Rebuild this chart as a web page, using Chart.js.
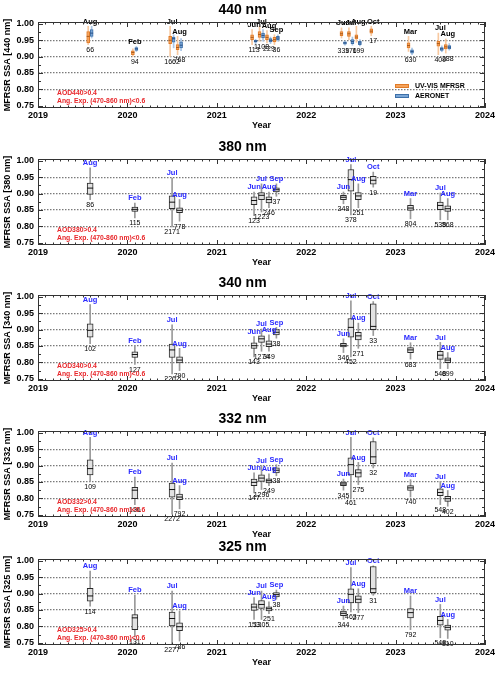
<!DOCTYPE html>
<html>
<head>
<meta charset="utf-8">
<script src="https://cdn.jsdelivr.net/npm/chart.js@4.4.1/dist/chart.umd.min.js"></script>
<style>
  body { margin: 0; background: #fff; }
  #wrap { position: relative; width: 500px; height: 673px; overflow: hidden; }
  #wrap canvas { position: absolute; left: 0; }
</style>
</head>
<body>
<div id="wrap">
  <canvas id="c440" width="500" height="135" style="top:-1px"></canvas>
  <canvas id="c380" width="500" height="135" style="top:136px"></canvas>
  <canvas id="c340" width="500" height="135" style="top:272px"></canvas>
  <canvas id="c332" width="500" height="135" style="top:408px"></canvas>
  <canvas id="c325" width="500" height="135" style="top:536px"></canvas>
</div>
<script>
// Observation months (same for every panel)
const months = ['2019-08', '2020-02', '2020-07', '2020-08', '2021-06', '2021-07', '2021-08', '2021-09',
                '2022-06', '2022-07', '2022-08', '2022-10', '2023-03', '2023-07', '2023-08'];
const monthLabels = ['Aug', 'Feb', 'Jul', 'Aug', 'Jun', 'Jul', 'Aug', 'Sep', 'Jun', 'Jul', 'Aug', 'Oct', 'Mar', 'Jul', 'Aug'];
const yearTicks = [2019, 2020, 2021, 2022, 2023, 2024];
const ssaTicks = [0.75, 0.80, 0.85, 0.90, 0.95, 1.00];
const gridLevels = [0.80, 0.85, 0.90, 0.95];

// Box stats per month: [whisker low, q1, median, q3, whisker high]
const ssa440Mfrsr = [
  [0.937, 0.942, 0.962, 0.977, 0.993], [0.901, 0.906, 0.913, 0.918, 0.924], [0.901, 0.940, 0.950, 0.962, 0.993],
  [0.906, 0.921, 0.928, 0.937, 0.962], [0.937, 0.952, 0.959, 0.967, 0.983], [0.947, 0.959, 0.968, 0.977, 0.993],
  [0.942, 0.952, 0.959, 0.967, 0.980], [0.937, 0.945, 0.952, 0.959, 0.967], [0.957, 0.964, 0.970, 0.977, 0.988],
  [0.952, 0.962, 0.970, 0.977, 0.988], [0.944, 0.954, 0.960, 0.967, 0.993], [0.964, 0.972, 0.978, 0.985, 0.993],
  [0.916, 0.927, 0.934, 0.942, 0.962], [0.906, 0.932, 0.940, 0.947, 0.972], [0.911, 0.924, 0.930, 0.937, 0.954]
];
const ssa440Aeronet = [
  [0.957, 0.962, 0.972, 0.983, 0.993], [0.916, 0.919, 0.924, 0.928, 0.931], [0.927, 0.944, 0.955, 0.960, 0.967],
  [0.918, 0.927, 0.935, 0.945, 0.955], [0.940, 0.944, 0.947, 0.950, 0.953], [0.947, 0.957, 0.965, 0.972, 0.983],
  [0.940, 0.945, 0.950, 0.955, 0.960], [0.947, 0.952, 0.957, 0.962, 0.967], [0.935, 0.938, 0.942, 0.945, 0.948],
  [0.935, 0.940, 0.946, 0.952, 0.960], [0.933, 0.937, 0.942, 0.947, 0.952], null,
  [0.906, 0.911, 0.916, 0.921, 0.926], [0.915, 0.919, 0.924, 0.928, 0.933], [0.920, 0.924, 0.929, 0.934, 0.940]
];
const ssa380 = [
  [0.882, 0.898, 0.917, 0.932, 0.979], [0.826, 0.846, 0.852, 0.859, 0.871], [0.798, 0.854, 0.874, 0.893, 0.948],
  [0.816, 0.842, 0.849, 0.857, 0.882], [0.833, 0.866, 0.879, 0.890, 0.905], [0.844, 0.882, 0.895, 0.903, 0.930],
  [0.857, 0.872, 0.882, 0.890, 0.905], [0.892, 0.905, 0.912, 0.918, 0.930], [0.869, 0.882, 0.889, 0.895, 0.905],
  [0.835, 0.908, 0.943, 0.974, 0.989], [0.857, 0.882, 0.893, 0.903, 0.930], [0.920, 0.929, 0.941, 0.953, 0.966],
  [0.823, 0.849, 0.856, 0.864, 0.885], [0.820, 0.851, 0.864, 0.874, 0.902], [0.820, 0.846, 0.854, 0.863, 0.885]
];
const ssa340 = [
  [0.857, 0.877, 0.898, 0.918, 0.977], [0.794, 0.815, 0.824, 0.832, 0.851], [0.765, 0.815, 0.838, 0.856, 0.915],
  [0.775, 0.798, 0.807, 0.817, 0.843], [0.817, 0.843, 0.851, 0.860, 0.879], [0.834, 0.861, 0.872, 0.881, 0.902],
  [0.834, 0.848, 0.856, 0.866, 0.884], [0.874, 0.884, 0.892, 0.900, 0.907], [0.830, 0.847, 0.852, 0.858, 0.872],
  [0.817, 0.877, 0.907, 0.934, 0.988], [0.843, 0.869, 0.881, 0.892, 0.920], [0.882, 0.900, 0.910, 0.979, 0.986],
  [0.810, 0.830, 0.838, 0.845, 0.860], [0.781, 0.809, 0.822, 0.834, 0.861], [0.781, 0.799, 0.807, 0.814, 0.830]
];
const ssa332 = [
  [0.852, 0.872, 0.891, 0.918, 0.987], [0.781, 0.799, 0.825, 0.834, 0.865], [0.752, 0.804, 0.827, 0.847, 0.908],
  [0.768, 0.796, 0.804, 0.813, 0.839], [0.817, 0.839, 0.849, 0.859, 0.878], [0.827, 0.852, 0.862, 0.872, 0.900],
  [0.839, 0.847, 0.854, 0.860, 0.875], [0.869, 0.878, 0.886, 0.893, 0.903], [0.825, 0.839, 0.844, 0.850, 0.859],
  [0.801, 0.872, 0.903, 0.924, 0.987], [0.842, 0.865, 0.878, 0.888, 0.910], [0.893, 0.906, 0.927, 0.974, 0.985],
  [0.804, 0.824, 0.832, 0.839, 0.857], [0.781, 0.808, 0.818, 0.829, 0.852], [0.776, 0.791, 0.799, 0.806, 0.824]
];
const ssa325 = [
  [0.862, 0.877, 0.893, 0.916, 0.969], [0.768, 0.790, 0.826, 0.836, 0.896], [0.745, 0.801, 0.824, 0.844, 0.908],
  [0.755, 0.787, 0.799, 0.811, 0.847], [0.821, 0.849, 0.859, 0.869, 0.888], [0.821, 0.855, 0.867, 0.879, 0.908],
  [0.839, 0.847, 0.854, 0.860, 0.875], [0.883, 0.890, 0.897, 0.903, 0.911], [0.821, 0.833, 0.840, 0.847, 0.862],
  [0.844, 0.872, 0.898, 0.915, 0.980], [0.842, 0.872, 0.883, 0.893, 0.915], [0.895, 0.903, 0.915, 0.983, 0.985],
  [0.790, 0.826, 0.842, 0.854, 0.893], [0.765, 0.804, 0.818, 0.831, 0.867], [0.763, 0.788, 0.797, 0.804, 0.821]
];

// Number of retrievals per month
const n440 = [66, 94, 1662, 768, 113, 1108, 229, 36, 339, 176, 199, 17, 630, 409, 288];
const n380 = [86, 115, 2171, 778, 123, 1223, 246, 37, 348, 378, 251, 19, 804, 538, 568];
const n340 = [102, 127, 2262, 790, 143, 1274, 349, 38, 346, 452, 271, 33, 683, 548, 699];
const n332 = [109, 136, 2272, 792, 147, 1296, 249, 38, 345, 461, 275, 32, 740, 548, 402];
const n325 = [114, 131, 2277, 786, 153, 1305, 251, 38, 344, 463, 277, 31, 792, 548, 810];

const FONT = "'Liberation Sans', Arial, Helvetica, sans-serif";
Chart.defaults.font.family = FONT;
Chart.defaults.color = '#000';

const mfrsrStyle = { fill: '#f5a35c', border: '#e07b28', whisker: '#f8c9a0', median: '#a85a1c', width: 3 };
const aeronetStyle = { fill: '#7aa6d6', border: '#3c6fa8', whisker: '#a9c6e6', median: '#2a5288', width: 3 };
const grayStyle = { fill: '#e2e2e2', border: '#2a2a2a', whisker: '#9a9a9a', median: '#111', width: 6 };

function toYear(ym) {
    const [y, m] = ym.split('-').map(Number);
    return y + (m - 1) / 12;
}

// whisker + box + median for one series
function boxDatasets(stats, style, axisId) {
    const whisk = [], box = [], med = [];
    stats.forEach((s, i) => {
        if (!s) return;
        const x = toYear(months[i]);
        whisk.push({ x: x, y: [s[0], s[4]] });
        box.push({ x: x, y: [s[1], s[3]] });
        med.push({ x: x, y: s[2] });
    });
    const common = { type: 'bar', xAxisID: axisId, grouped: false, categoryPercentage: 1, barPercentage: 1, borderSkipped: false };
    return [
        { ...common, data: whisk, backgroundColor: style.whisker, borderWidth: 0, maxBarThickness: 1, order: 3 },
        { ...common, data: box, backgroundColor: style.fill, borderColor: style.border, borderWidth: 1,
          maxBarThickness: style.width, order: 2 },
        { type: 'scatter', xAxisID: axisId, data: med, pointStyle: 'line', radius: style.width / 2,
          borderColor: style.median, borderWidth: 1, order: 1 }
    ];
}

// frame with inward ticks (monthly on x, 0.025 on y)
const framePlugin = {
    id: 'frame',
    afterDraw(chart) {
        const { ctx, chartArea: a, scales: { x, y } } = chart;
        ctx.save();
        ctx.strokeStyle = '#333';
        ctx.lineWidth = 1;
        ctx.strokeRect(Math.round(a.left) + 0.5, Math.round(a.top) + 0.5, Math.round(a.width) - 1, Math.round(a.height) - 1);
        ctx.beginPath();
        for (let yr = 2019; yr <= 2024; yr++) {
            for (let m = 0; m < 12; m++) {
                if (yr === 2024 && m > 0) break;
                const px = Math.round(x.getPixelForValue(yr + m / 12)) + 0.5;
                const len = m === 0 ? 5 : 2.5;
                ctx.moveTo(px, a.bottom); ctx.lineTo(px, a.bottom - len);
                ctx.moveTo(px, a.top); ctx.lineTo(px, a.top + len);
            }
        }
        for (let k = 0; k <= 10; k++) {
            const py = Math.round(y.getPixelForValue(0.75 + k * 0.025)) + 0.5;
            const len = k % 2 === 0 ? 5 : 3;
            ctx.moveTo(a.left, py); ctx.lineTo(a.left + len, py);
            ctx.moveTo(a.right, py); ctx.lineTo(a.right - len, py);
        }
        ctx.stroke();
        ctx.restore();
    }
};

// month names, counts, selection text and legend
function labelPlugin(cfg) {
    return {
        id: 'boxLabels',
        afterDatasetsDraw(chart) {
            const { ctx, chartArea: a, scales: { x, y } } = chart;
            ctx.save();
            ctx.textAlign = 'center';
            months.forEach((ym, i) => {
                const stats = cfg.series.map(s => s[i]).filter(Boolean);
                const hi = Math.max(...stats.map(s => s[4]));
                const lo = Math.min(...stats.map(s => s[0]));
                const px = x.getPixelForValue(toYear(ym));
                ctx.font = 'bold 7.5px ' + FONT;
                ctx.fillStyle = cfg.monthColor;
                ctx.textBaseline = 'bottom';
                ctx.fillText(monthLabels[i], px, y.getPixelForValue(hi) - 1);
                ctx.font = '7px ' + FONT;
                ctx.fillStyle = '#000';
                ctx.textBaseline = 'top';
                ctx.fillText(String(cfg.counts[i]), px, y.getPixelForValue(lo) + 2);
            });

            ctx.textAlign = 'left';
            ctx.textBaseline = 'middle';
            ctx.fillStyle = '#e8262a';
            ctx.font = 'bold 6.8px ' + FONT;
            ctx.fillText('AOD' + cfg.wl + '>0.4', a.left + 19, a.bottom - 15);
            ctx.fillText('Ang. Exp. (470-860 nm)<0.6', a.left + 19, a.bottom - 7);

            if (cfg.legend) {
                cfg.legend.forEach((item, k) => {
                    const ly = a.bottom - 22 + k * 10;
                    ctx.fillStyle = item.style.fill;
                    ctx.strokeStyle = item.style.border;
                    ctx.lineWidth = 1;
                    ctx.fillRect(a.right - 90, ly - 2, 14, 4);
                    ctx.strokeRect(a.right - 90 + 0.5, ly - 2 + 0.5, 13, 3);
                    ctx.fillStyle = '#000';
                    ctx.font = 'bold 7px ' + FONT;
                    ctx.fillText(item.label, a.right - 70, ly);
                });
            }
            ctx.restore();
        }
    };
}

function hiddenAxis(shift) {
    return { type: 'linear', axis: 'x', display: false, offset: false, min: 2019 + shift, max: 2024 + shift };
}

function makePanel(canvasId, wl, datasets, cfg, extraScales) {
    const scales = {
        x: {
            type: 'linear', position: 'bottom', min: 2019, max: 2024, offset: false,
            afterBuildTicks: s => { s.ticks = yearTicks.map(v => ({ value: v })); },
            ticks: { callback: v => String(v), font: { size: 9, weight: 'bold' }, color: '#000', padding: 2, maxRotation: 0, autoSkip: false },
            grid: { display: false, drawTicks: false, offset: false },
            border: { display: false },
            title: { display: true, text: 'Year', font: { size: 9, weight: 'bold' }, color: '#000', padding: { top: 0, bottom: 3 } },
            afterFit: s => { s.height = 26; }
        },
        y: {
            min: 0.743, max: 1.006, stacked: false, beginAtZero: false,
            afterBuildTicks: s => { s.ticks = ssaTicks.map(v => ({ value: v })); },
            ticks: { callback: v => v.toFixed(2), font: { size: 9, weight: 'bold' }, color: '#000', padding: 4 },
            grid: {
                drawTicks: false, lineWidth: 1.3,
                color: c => (c.tick && gridLevels.some(g => Math.abs(g - c.tick.value) < 1e-6)) ? '#7a7a7a' : 'rgba(0,0,0,0)'
            },
            border: { display: false, dash: [1.5, 1.5] },
            title: { display: true, text: 'MFRSR SSA [' + wl + ' nm]', font: { size: 9, weight: 'bold' }, color: '#000', padding: { top: 2, bottom: 0 } },
            afterFit: s => { s.width = 38; }
        },
        ...extraScales
    };

    new Chart(document.getElementById(canvasId), {
        type: 'bar',
        data: { datasets: datasets },
        options: {
            responsive: false,
            animation: false,
            events: [],
            layout: { padding: { left: 0, right: 15, top: 0, bottom: 0 } },
            plugins: {
                legend: { display: false },
                tooltip: { enabled: false },
                title: {
                    display: true, text: wl + ' nm', color: '#000',
                    font: { size: 14, weight: 'bold' }, padding: { top: 3, bottom: 3.2 }
                }
            },
            scales: scales
        },
        plugins: [framePlugin, labelPlugin(cfg)]
    });
}

document.addEventListener('DOMContentLoaded', function () {
    // 440 nm: MFRSR and AERONET side by side
    makePanel('c440', 440,
        [...boxDatasets(ssa440Mfrsr, mfrsrStyle, 'xm'), ...boxDatasets(ssa440Aeronet, aeronetStyle, 'xa')],
        {
            wl: 440, series: [ssa440Mfrsr, ssa440Aeronet], counts: n440, monthColor: '#000',
            legend: [{ label: 'UV-VIS MFRSR', style: mfrsrStyle }, { label: 'AERONET', style: aeronetStyle }]
        },
        { xm: hiddenAxis(0.022), xa: hiddenAxis(-0.017) });

    const others = [['c380', 380, ssa380, n380], ['c340', 340, ssa340, n340],
                    ['c332', 332, ssa332, n332], ['c325', 325, ssa325, n325]];
    others.forEach(([id, wl, stats, counts]) => {
        makePanel(id, wl, boxDatasets(stats, grayStyle, 'x'),
            { wl: wl, series: [stats], counts: counts, monthColor: '#2a2aff' }, {});
    });
});
</script>
</body>
</html>
